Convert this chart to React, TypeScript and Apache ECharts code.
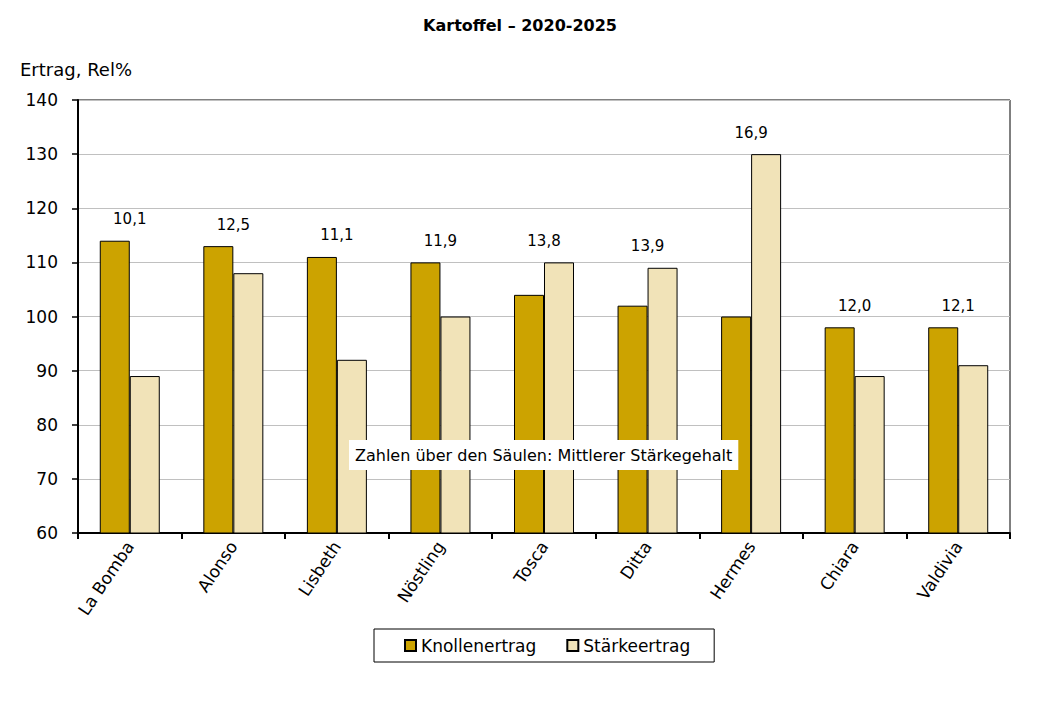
import React, { useEffect, useRef } from 'react';
import * as echarts from 'echarts';

// Sorten
const sorten = ['La Bomba', 'Alonso', 'Lisbeth', 'Nöstling', 'Tosca', 'Ditta', 'Hermes', 'Chiara', 'Valdivia'];
// Knollenertrag, Rel%
const knollenertrag = [114, 113, 111, 110, 104, 102, 100, 98, 98];
// Stärkeertrag, Rel%
const staerkeertrag = [89, 108, 92, 100, 110, 109, 130, 89, 91];
// Mittlerer Stärkegehalt (Zahlen über den Säulen)
const staerkegehalt = ['10,1', '12,5', '11,1', '11,9', '13,8', '13,9', '16,9', '12,0', '12,1'];

const FONT = 'DejaVu Sans';

const App = () => {
    const chartRef = useRef(null);

    useEffect(() => {
        const myChart = echarts.init(chartRef.current, null, { renderer: 'svg' });

        // Beschriftung über der höheren Säule jeder Gruppe
        const labelPoints = sorten.map((_, i) => ({
            value: [i, Math.max(knollenertrag[i], staerkeertrag[i])],
            label: { formatter: staerkegehalt[i] },
        }));

        const option = {
            animation: false,
            backgroundColor: '#fff',
            textStyle: { fontFamily: FONT, color: '#000' },
            title: {
                text: 'Kartoffel – 2020-2025',
                left: 'center',
                top: 12,
                textStyle: { fontFamily: FONT, fontSize: 16, fontWeight: 'bold', color: '#000' },
            },
            grid: {
                left: 78,
                right: 30,
                top: 100,
                bottom: 187,
                show: true,
                borderColor: '#000',
                borderWidth: 1,
                backgroundColor: '#fff',
            },
            legend: {
                data: ['Knollenertrag', 'Stärkeertrag'],
                left: 374,
                top: 629,
                icon: 'rect',
                itemWidth: 11,
                itemHeight: 11,
                itemGap: 30,
                padding: [8, 24, 8, 30],
                borderColor: '#000',
                borderWidth: 1,
                textStyle: { fontFamily: FONT, fontSize: 17, color: '#000' },
            },
            xAxis: {
                type: 'category',
                data: sorten,
                axisLine: { lineStyle: { color: '#000', width: 2 } },
                axisTick: { show: true, length: 6, lineStyle: { color: '#000', width: 2 } },
                axisLabel: { rotate: 56, margin: 10, fontSize: 17, color: '#000', fontFamily: FONT },
            },
            yAxis: {
                type: 'value',
                name: 'Ertrag, Rel%',
                nameLocation: 'end',
                nameGap: 22,
                nameTextStyle: { fontFamily: FONT, fontSize: 18, color: '#000', align: 'left', padding: [0, 0, 0, -58] },
                min: 60,
                max: 140,
                interval: 10,
                axisLine: { show: true, lineStyle: { color: '#000', width: 2 } },
                axisTick: { show: true, length: 6, lineStyle: { color: '#000', width: 1.5 } },
                axisLabel: { fontSize: 17, color: '#000', margin: 20, fontFamily: FONT },
                splitLine: { lineStyle: { color: '#c0c0c0', width: 1 } },
            },
            series: [
                {
                    name: 'Knollenertrag',
                    type: 'bar',
                    data: knollenertrag,
                    barWidth: 30,
                    barGap: '0%',
                    itemStyle: { color: '#CCA300', borderColor: '#000', borderWidth: 1 },
                },
                {
                    name: 'Stärkeertrag',
                    type: 'bar',
                    data: staerkeertrag,
                    barWidth: 30,
                    barGap: '0%',
                    itemStyle: { color: '#F1E3B8', borderColor: '#000', borderWidth: 1 },
                },
                {
                    name: 'Stärkegehalt',
                    type: 'scatter',
                    data: labelPoints,
                    symbolSize: 0,
                    itemStyle: { color: 'rgba(0,0,0,0)', opacity: 1 },
                    silent: true,
                    z: 5,
                    label: {
                        show: true,
                        position: 'top',
                        distance: 12,
                        fontFamily: FONT,
                        fontSize: 15,
                        color: '#000',
                        opacity: 1,
                        backgroundColor: '#fff',
                        padding: [2, 5],
                    },
                },
            ],
            graphic: [
                {
                    type: 'text',
                    left: 349,
                    top: 440,
                    z: 10,
                    style: {
                        text: 'Zahlen über den Säulen: Mittlerer Stärkegehalt',
                        font: '16px "DejaVu Sans"',
                        fill: '#000',
                        backgroundColor: '#fff',
                        padding: [7, 6],
                    },
                },
            ],
        };

        myChart.setOption(option);

        return () => {
            myChart.dispose();
        };
    }, []);

    return (
        <div style={{ position: 'fixed', left: 0, top: 0 }}>
            <div ref={chartRef} style={{ width: '1040px', height: '720px' }} />
        </div>
    );
};

export default App;
